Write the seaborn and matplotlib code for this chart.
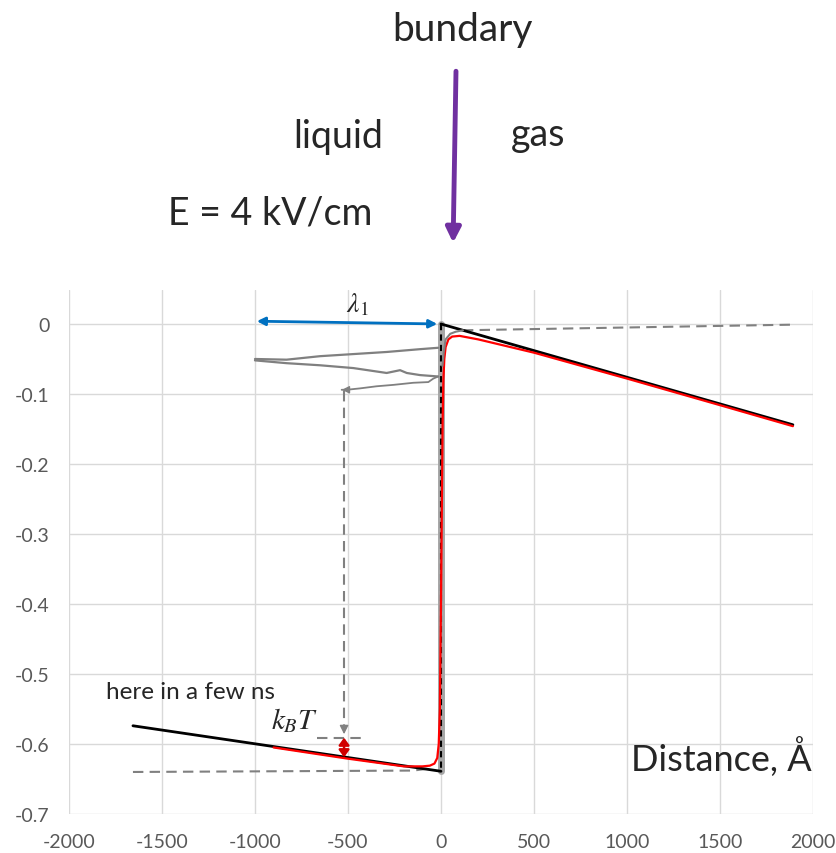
import matplotlib
matplotlib.use("Agg")
import matplotlib.pyplot as plt
import seaborn as sns
import pandas as pd

# potential profile across the liquid/gas boundary (x in Angstrom)
liq_x = [-1656, 0]
liq_y = [-0.574, -0.639]
gas_x = [0, 1892]
gas_y = [0.0, -0.144]

red_x = [-900, -500, -200, -100, -60, -35, -20, -12, -6, 0, 5, 9, 13, 18, 25, 40,
         60, 100, 200, 500, 1000, 1500, 1892]
red_y = [-0.605, -0.621, -0.632, -0.632, -0.631, -0.628, -0.620, -0.600, -0.550,
         -0.400, -0.250, -0.140, -0.080, -0.050, -0.033, -0.022, -0.018, -0.017,
         -0.022, -0.041, -0.078, -0.116, -0.146]

# electron trajectories (grey)
trajA_x = [-1000, -830, -650, -471, -292, -113, -15]
trajA_y = [-0.050, -0.051, -0.046, -0.043, -0.040, -0.036, -0.034]
trajB_x = [-1000, -830, -650, -471, -292, -220, -184, -113, -15]
trajB_y = [-0.052, -0.056, -0.059, -0.063, -0.070, -0.066, -0.070, -0.073, -0.075]
trajC_x = [-15, -41, -68, -149, -256, -346, -435, -507, -534]
trajC_y = [-0.075, -0.078, -0.083, -0.084, -0.087, -0.089, -0.092, -0.094, -0.094]
hook_x = [8, 15, 25, 50, 80, 118]
hook_y = [-0.06, -0.040, -0.022, -0.014, -0.011, -0.009]

gas_dash_x = [118, 1887]
gas_dash_y = [-0.009, -0.001]
liq_dash_x = [-1656, -150, -60]
liq_dash_y = [-0.640, -0.638, -0.635]
kbt_dash_x = [-667, -398]
kbt_dash_y = [-0.591, -0.591]

x_ticks = [-2000, -1500, -1000, -500, 0, 500, 1000, 1500, 2000]
y_ticks = [0, -0.1, -0.2, -0.3, -0.4, -0.5, -0.6, -0.7]
y_labels = ["0", "-0.1", "-0.2", "-0.3", "-0.4", "-0.5", "-0.6", "-0.7"]

sns.set_style("white")
plt.rcParams['font.family'] = ['Lato', 'DejaVu Sans']
plt.rcParams['axes.unicode_minus'] = False
plt.rcParams['mathtext.fontset'] = 'stix'

fig = plt.figure(figsize=(8.37, 8.54), dpi=100)
ax = fig.add_axes([0.0824, 0.0457, 0.8889, 0.6136])

grey = "#808080"


def line(xs, ys, **kw):
    sns.lineplot(data=pd.DataFrame({"x": xs, "y": ys}), x="x", y="y", sort=False,
                 estimator=None, ax=ax, **kw)


# grey band with black dashes at the boundary
line([0, 0], [0.0, -0.639], color="#a6a6a6", linewidth=5)
line([0, 0], [0.0, -0.639], color="black", linewidth=1.5, linestyle=(0, (3, 2)))
line(liq_dash_x, liq_dash_y, color=grey, linewidth=1.5, linestyle=(0, (5, 3)))
line(gas_dash_x, gas_dash_y, color=grey, linewidth=1.5, linestyle=(0, (5, 3)))
line(liq_x, liq_y, color="black", linewidth=2.0)
line(gas_x, gas_y, color="black", linewidth=2.0)
line(red_x, red_y, color="red", linewidth=1.6)
line(trajA_x, trajA_y, color=grey, linewidth=1.6)
line(trajB_x, trajB_y, color=grey, linewidth=1.6)
line(trajC_x, trajC_y, color=grey, linewidth=1.3)
line(hook_x, hook_y, color=grey, linewidth=1.5)
line(kbt_dash_x, kbt_dash_y, color=grey, linewidth=1.5, linestyle=(0, (5, 3)))

# vertical dashed arrow down to kBT level
line([-521, -521], [-0.096, -0.578], color=grey, linewidth=1.5, linestyle=(0, (5, 3)))
ax.annotate("", xy=(-521, -0.590), xytext=(-521, -0.575),
            arrowprops=dict(arrowstyle="-|>", color=grey, lw=1, mutation_scale=13))
ax.annotate("", xy=(-548, -0.094), xytext=(-500, -0.094),
            arrowprops=dict(arrowstyle="-|>", color=grey, lw=1, mutation_scale=11))
ax.annotate("", xy=(-521, -0.591), xytext=(-521, -0.619),
            arrowprops=dict(arrowstyle="<|-|>,head_length=0.3,head_width=0.22",
                            color="#d00000", lw=1.8, mutation_scale=14,
                            shrinkA=0, shrinkB=0))
ax.annotate("", xy=(-5, 0.0), xytext=(-1005, 0.004),
            arrowprops=dict(arrowstyle="<|-|>", color="#0070c0", lw=2, mutation_scale=12))

ax.text(-452, 0.010, r"$\lambda_1$", fontsize=20, ha="center", va="bottom")
ax.text(-660, -0.586, r"$k_BT$", fontsize=21, ha="right", va="bottom")
ax.text(-1800, -0.525, "here in a few ns", fontsize=17.5, ha="left", va="center")
ax.text(1995, -0.617, "Distance, \u00c5", fontsize=26, ha="right", va="center")

# boundary marker above the plot
ax.annotate("", xy=(65, 0.112), xytext=(81, 0.365), annotation_clip=False,
            arrowprops=dict(arrowstyle="-|>", color="#7030a0", lw=3.5, mutation_scale=22))
fig.text(0.553, 0.965, "bundary", fontsize=28, ha="center", va="center")
fig.text(0.404, 0.840, "liquid", fontsize=27, ha="center", va="center")
fig.text(0.643, 0.842, "gas", fontsize=27, ha="center", va="center")
fig.text(0.323, 0.750, "E = 4 kV/cm", fontsize=27, ha="center", va="center")

ax.set_xlim(-2000, 2000)
ax.set_ylim(-0.7, 0.0486)
ax.set_xticks(x_ticks)
ax.set_xticklabels([str(t) for t in x_ticks])
ax.set_yticks(y_ticks)
ax.set_yticklabels(y_labels)
ax.grid(True, color="#d9d9d9", linewidth=1)
ax.set_axisbelow(True)
for s in ax.spines.values():
    s.set_visible(False)
ax.tick_params(length=0, labelsize=14, labelcolor="#595959")
ax.tick_params(axis="x", pad=14)
ax.tick_params(axis="y", pad=14)
ax.set_xlabel("")
ax.set_ylabel("")

fig.savefig("out.png", dpi=100)
